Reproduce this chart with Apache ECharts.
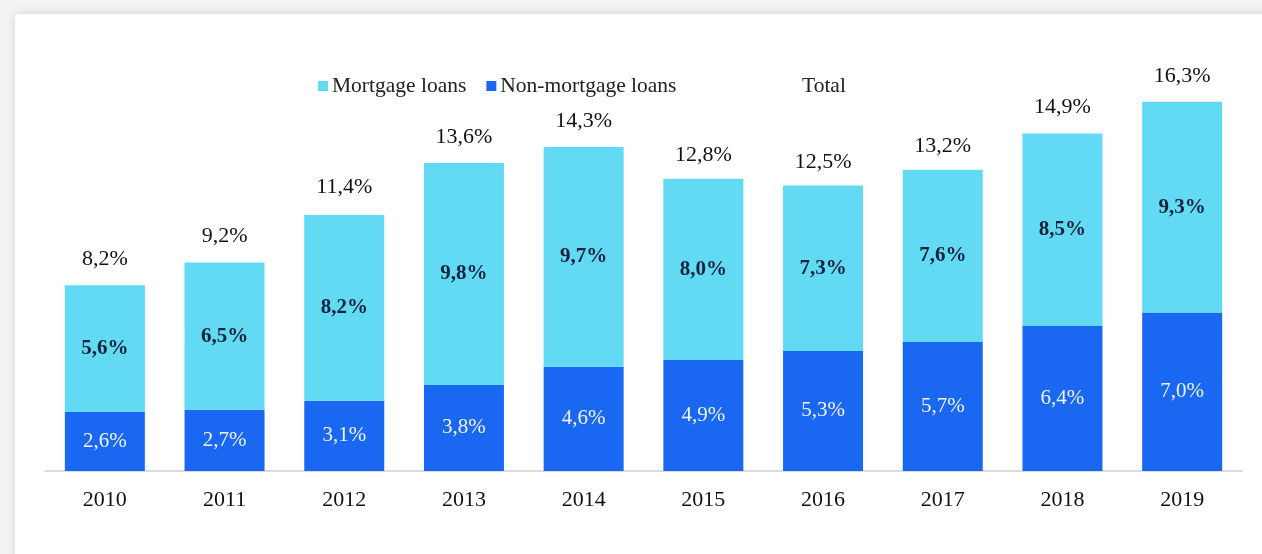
<!DOCTYPE html>
<html>
<head>
<meta charset="utf-8">
<script src="https://cdn.jsdelivr.net/npm/echarts@6/dist/echarts.min.js"></script>
<style>
html,body{margin:0;padding:0;width:1262px;height:554px;overflow:hidden;background:#f3f3f3;}
#card{position:absolute;left:15px;top:14px;width:1300px;height:600px;background:#fff;box-shadow:0 0 10px rgba(0,0,0,0.12);border-radius:4px;}
#chart{position:absolute;left:0;top:0;width:1262px;height:554px;}
</style>
</head>
<body>
<div id="card"></div>
<div id="chart"></div>
<script>
const categories = ['2010','2011','2012','2013','2014','2015','2016','2017','2018','2019'];
const nonMortgage = [2.6, 2.7, 3.1, 3.8, 4.6, 4.9, 5.3, 5.7, 6.4, 7.0];
const mortgage = [5.6, 6.5, 8.2, 9.8, 9.7, 8.0, 7.3, 7.6, 8.5, 9.3];
const totals = [8.2, 9.2, 11.4, 13.6, 14.3, 12.8, 12.5, 13.2, 14.9, 16.3];

const fmt = v => v.toFixed(1).replace('.', ',') + '%';
const serif = '"Liberation Serif", "DejaVu Serif", serif';

const chart = echarts.init(document.getElementById('chart'));
chart.setOption({
  backgroundColor: 'transparent',
  animation: false,
  textStyle: { fontFamily: serif },
  legend: [{
    left: 313, top: 70, itemWidth: 10, itemHeight: 10, itemGap: 20,
    icon: 'rect',
    textStyle: { fontFamily: serif, fontSize: 21.5, color: '#222', padding: [0,0,0,-1] },
    data: ['Mortgage loans', 'Non-mortgage loans']
  }, {
    left: 782, top: 70, itemWidth: 10, itemHeight: 10,
    icon: 'rect',
    textStyle: { fontFamily: serif, fontSize: 21.5, color: '#222' },
    data: ['Total']
  }],
  grid: { left: 45, right: 20, top: 18, bottom: 83 },
  xAxis: {
    type: 'category', data: categories,
    axisLine: { lineStyle: { color: '#dcdcdc', width: 2 } },
    axisTick: { show: false },
    axisLabel: { fontFamily: serif, fontSize: 22, color: '#111', margin: 18 }
  },
  yAxis: {
    type: 'value', min: 0, max: 20, show: false,
    splitLine: { show: false }
  },
  series: [{
    name: 'Non-mortgage loans', type: 'bar', stack: 'a', barWidth: 80,
    data: nonMortgage,
    itemStyle: { color: '#1a68f2' },
    label: { show: true, position: 'inside', formatter: p => fmt(p.value),
      fontFamily: serif, fontSize: 21, color: '#eef4ff' }
  }, {
    name: 'Mortgage loans', type: 'bar', stack: 'a', barWidth: 80,
    data: mortgage,
    itemStyle: { color: '#62daf3' },
    label: { show: true, position: 'inside', formatter: p => fmt(p.value),
      fontFamily: serif, fontSize: 21, fontWeight: 'bold', color: '#14233d' }
  }, {
    name: 'Total', type: 'bar', barWidth: 80, barGap: '-100%', z: 1,
    data: totals,
    itemStyle: { color: 'rgba(0,0,0,0)' },
    label: { show: true, position: 'top', distance: 15, formatter: p => fmt(p.value),
      fontFamily: serif, fontSize: 22, color: '#111' }
  }]
});
</script>
</body>
</html>
